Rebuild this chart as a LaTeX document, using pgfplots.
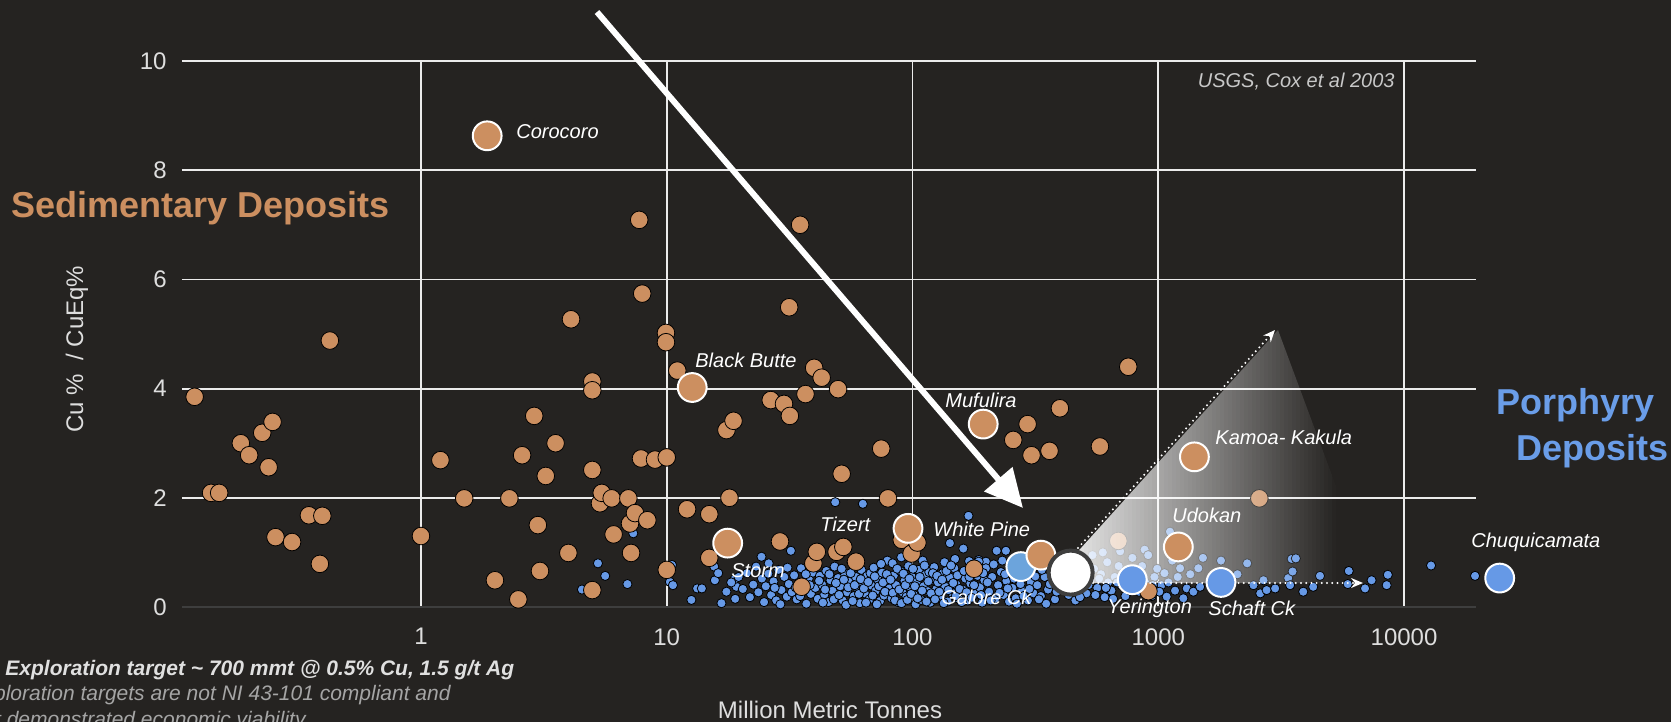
\documentclass[border=0pt]{standalone}
\usepackage{fontspec}
\setmainfont{Liberation Sans}
\usepackage{pgfplots}
\pgfplotsset{compat=1.18}
\usetikzlibrary{arrows.meta}
\definecolor{bg}{RGB}{37,35,33}
\definecolor{sed}{RGB}{204,143,96}
\definecolor{por}{RGB}{102,153,230}
\definecolor{porlt}{RGB}{108,164,220}
\definecolor{porttl}{RGB}{106,157,232}
\definecolor{tickc}{RGB}{222,222,222}
\definecolor{notec}{RGB}{165,165,165}
\definecolor{ringc}{RGB}{62,62,62}

\pgfplotstableread{
x y
0.120 3.85
0.140 2.09
0.151 2.09
0.185 3.00
0.200 2.78
0.226 3.19
0.249 3.39
0.240 2.56
0.256 1.28
0.299 1.19
0.350 1.68
0.397 1.67
0.388 0.79
0.426 4.88
1.00 1.30
1.20 2.69
1.50 1.99
2.00 0.49
2.29 1.99
2.49 0.14
2.58 2.78
2.89 3.50
2.99 1.50
3.05 0.66
3.22 2.40
3.53 3.00
3.98 0.99
4.08 5.27
4.98 4.13
4.98 3.97
4.98 2.51
4.98 0.31
5.35 1.90
5.44 2.09
5.97 1.99
6.08 1.33
6.98 1.99
7.09 1.53
7.16 0.99
7.43 1.72
7.73 7.09
7.86 2.72
7.95 5.74
8.34 1.59
8.96 2.70
9.93 5.02
9.93 4.85
10.0 2.74
10.0 0.68
11.04 4.33
12.1 1.79
14.9 1.70
14.9 0.90
17.5 3.24
18.0 2.00
18.7 3.41
26.5 3.79
28.9 1.20
30.0 3.72
31.5 5.49
31.7 3.50
34.9 7.00
35.4 0.37
36.7 3.90
39.5 0.80
39.8 4.38
40.8 1.01
42.7 4.20
49.1 1.01
49.8 3.99
51.5 2.44
52.3 1.10
58.9 0.83
74.6 2.90
79.5 1.99
90.4 1.23
99.2 0.98
104.7 1.18
178 0.70
257 3.06
294 3.35
305 2.78
361 2.86
398 3.64
579 2.94
755 4.40
912 0.29
688 1.21
2578 1.99
}\sedtable

\pgfplotstableread{
x y
4.52 0.32
5.25 0.80
5.62 0.57
6.92 0.42
7.31 1.35
10.3 0.46
10.6 0.40
10.5 0.77
12.6 0.13
13.3 0.34
13.9 0.34
15.7 0.49
16.7 0.07
15.6 0.74
19.2 0.37
18.9 0.51
24.3 0.92
32.0 1.03
48.5 1.92
62.8 1.89
169 1.67
142 1.17
161 1.07
186 0.86
199 0.83
16.2 0.62
17.5 0.28
18.3 0.45
19.0 0.15
19.6 0.55
20.4 0.33
21.2 0.62
21.8 0.18
22.5 0.41
23.1 0.74
23.6 0.27
24.4 0.52
24.9 0.09
25.3 0.38
25.9 0.61
26.6 0.22
27.2 0.47
27.9 0.12
28.5 0.68
29.3 0.31
30.1 0.55
30.8 0.19
31.4 0.42
32.3 0.27
33.0 0.58
33.8 0.14
34.5 0.44
35.2 0.71
36.1 0.33
37.0 0.06
37.8 0.52
38.6 0.24
39.4 0.63
40.3 0.35
41.2 0.15
42.0 0.57
42.9 0.41
43.8 0.23
44.6 0.66
45.5 0.09
46.4 0.49
47.3 0.30
48.2 0.74
49.0 0.18
49.8 0.53
50.8 0.38
52.0 0.12
53.1 0.61
54.2 0.27
55.4 0.46
56.5 0.82
57.7 0.20
58.8 0.55
60.0 0.33
61.1 0.07
62.0 0.68
62.8 0.42
64.0 0.25
65.4 0.57
66.8 0.14
67.5 0.62
68.2 0.39
69.5 0.72
70.9 0.30
72.3 0.50
73.8 0.11
75.2 0.63
76.6 0.21
78.0 0.44
79.0 0.85
80.5 0.34
82.3 0.16
83.0 0.80
84.0 0.58
85.8 0.40
87.5 0.09
89.3 0.66
90.0 0.91
91.0 0.27
92.8 0.48
94.5 0.19
96.3 0.75
98.0 0.36
99.5 0.55
101.5 0.22
103 0.05
104 0.46
106 0.68
108.5 0.13
110 0.85
111 0.38
113 0.59
115.5 0.29
117 0.64
118 0.08
120 0.50
122.5 0.73
125 0.33
127 0.45
130 0.18
131 0.30
133 0.62
135 0.82
136 0.37
139 0.10
142 0.54
145 0.26
148 0.71
149 0.88
151 0.41
154 0.15
157 0.60
160 0.32
164 0.52
168 0.12
170 0.84
172 0.43
176 0.69
180 0.24
184 0.57
186 0.83
188 0.36
192 0.08
196 0.49
199 0.71
205 0.28
211 0.55
214 0.78
217 0.15
220 1.03
223 0.40
229 0.64
232 0.85
235 0.22
240 1.03
241 0.48
247 0.10
255 0.35
263 0.16
268 0.80
271 0.52
279 0.30
287 0.60
290 0.86
295 0.12
303 0.45
306 0.66
311 0.25
322 0.40
333 0.20
340 0.78
345 0.55
350 0.06
356 0.32
368 0.62
374 0.85
380 0.14
392 0.47
405 0.36
415 0.80
418 0.55
432 0.22
446 0.42
460 0.12
470 0.88
474 0.60
488 0.30
495 0.50
510 0.25
530 0.50
540 0.95
548 0.70
565 0.35
585 0.60
595 1.00
605 0.18
620 0.82
625 0.45
645 0.30
665 0.55
690 0.75
700 1.02
710 0.40
735 0.20
750 0.35
760 0.65
785 0.90
810 0.60
835 0.28
860 0.75
880 1.05
885 0.45
910 0.95
940 0.20
965 0.55
990 0.70
1030 0.40
1060 0.62
1082 0.19
1116 1.38
1140 0.85
1170 0.30
1200 0.55
1227 0.71
1265 0.16
1306 0.34
1350 0.60
1390 0.28
1456 0.71
1480 0.37
1520 0.90
1650 0.45
1800 0.85
1960 0.37
2100 0.60
2300 0.80
2440 0.40
2600 0.25
2680 0.49
2760 0.31
2990 0.34
3380 0.53
3440 0.40
3490 0.88
3520 0.65
3630 0.89
3890 0.28
4270 0.37
4550 0.57
5900 0.42
5960 0.66
6940 0.34
7380 0.49
8500 0.40
8590 0.59
12880 0.76
19450 0.57
26.0 0.80
27.5 0.35
29.0 0.05
31.0 0.72
33.5 0.36
34.9 0.20
36.8 0.60
38.2 0.40
40.8 0.78
41.7 0.48
43.2 0.08
44.1 0.32
45.9 0.60
47.8 0.14
48.8 0.44
50.3 0.22
51.5 0.70
52.6 0.50
53.7 0.04
54.8 0.36
56.0 0.62
57.1 0.11
58.2 0.40
59.4 0.75
60.6 0.24
61.6 0.51
63.4 0.34
64.7 0.08
66.1 0.46
68.9 0.21
70.2 0.56
71.6 0.05
73.0 0.38
74.5 0.79
75.9 0.45
77.3 0.28
78.6 0.60
81.4 0.50
83.2 0.26
84.9 0.12
86.7 0.70
88.4 0.32
90.2 0.07
91.9 0.61
93.6 0.40
95.4 0.13
97.2 0.52
98.8 0.24
100.5 0.70
102.2 0.38
105 0.16
107 0.55
109.5 0.30
112 0.76
114 0.10
116 0.47
119 0.25
121 0.62
123.5 0.14
126 0.57
128.5 0.28
132 0.50
134 0.07
137.5 0.66
140 0.31
143.5 0.76
146.5 0.44
150 0.20
152.5 0.58
155.5 0.33
158.5 0.09
162 0.66
166 0.27
170.5 0.55
174 0.17
178 0.40
182 0.74
190 0.22
194 0.62
202 0.45
208 0.12
226 0.26
238 0.60
244 0.34
251 0.70
259 0.52
266 0.06
275 0.42
283 0.20
299 0.33
316 0.56
327 0.14
336 0.68
362 0.42
386 0.28
398 0.70
425 0.32
453 0.58
480 0.18
520 0.40
555 0.22
575 0.52
612 0.35
655 0.15
680 0.45
720 0.60
770 0.30
820 0.45
900 0.30
950 0.40
1010 0.28
1100 0.45
}\portable

\begin{document}
\begin{tikzpicture}
\path[use as bounding box] (0pt,0pt) rectangle (835.5pt,-361pt);
\clip (0pt,0pt) rectangle (835.5pt,-361pt);
\fill[bg] (0pt,0pt) rectangle (835.5pt,-361pt);

\begin{axis}[
  xmode=log, scale only axis, width=647pt, height=273pt,
  xmin=0.1066, xmax=19630, ymin=0, ymax=10,
  at={(91pt,-303.5pt)}, anchor=south west, clip=false,
  axis x line*=bottom, axis y line*=left,
  x axis line style={draw=ringc, line width=0.8pt},
  y axis line style={draw=none},
  xtick={1,10,100,1000,10000}, xticklabels={1,10,100,1000,10000},
  ytick={2,4,6,8,10}, yticklabels={2,4,6,8,10},
  extra y ticks={0}, extra y tick labels={0},
  extra y tick style={grid=none},
  grid=major, grid style={draw=white!92!black, line width=0.9pt},
  tick style={draw=none}, major tick length=0pt, minor tick length=0pt,
  /pgf/number format/assume math mode=true,
  tick label style={font=\fontsize{12}{14}\selectfont, text=tickc},
  xticklabel style={anchor=north, inner sep=0pt, yshift=-10.5pt},
  yticklabel style={anchor=east, inner sep=0pt, xshift=-7.5pt},
]
\addplot[only marks, mark=*, mark size=2.3pt, mark options={draw=none, fill=por}] table[x=x,y=y] {\portable};
\addplot[only marks, mark=*, mark size=4.4pt, mark options={draw=none, fill=sed}] table[x=x,y=y] {\sedtable};
\end{axis}

\begin{scope}[x=0.5pt, y=-0.5pt]
  \begin{scope}
    \clip (1072,583) -- (1072,558) -- (1278,330) -- (1372,583) -- cycle;
    \foreach \i in {0,...,65} {
      \pgfmathsetmacro\op{0.88*(1-\i/66)}
      \fill[white, fill opacity=\op] ({1072+4*\i},320) rectangle ({1076+4*\i},590);
    }
  \end{scope}
  \draw[white, line width=1.1pt, line cap=round, dash pattern=on 0pt off 2.6pt, -{Stealth[length=6pt,width=5pt,inset=2pt]}] (1078,548) -- (1275,330);
  \draw[white, line width=1.1pt, line cap=round, dash pattern=on 0pt off 2.6pt, -{Stealth[length=6pt,width=5pt,inset=2pt]}] (1093,583) -- (1363,583);
\end{scope}

\begin{axis}[
  xmode=log, scale only axis, width=647pt, height=273pt,
  xmin=0.1066, xmax=19630, ymin=0, ymax=10,
  at={(91pt,-303.5pt)}, anchor=south west, clip=false,
  hide axis]
\addplot[only marks, mark=*, mark size=7.2pt, mark options={draw=white, line width=1pt, fill=porlt}] coordinates {(276,0.74)};
\addplot[only marks, mark=*, mark size=7.2pt, mark options={draw=white, line width=1pt, fill=sed}] coordinates {
(1.86,8.63) (12.7,4.02) (194,3.35) (1403,2.75) (17.7,1.17) (95.9,1.44) (1207,1.10) (333,0.95)};
\addplot[only marks, mark=*, mark size=7.2pt, mark options={draw=white, line width=1pt, fill=por}] coordinates {
(784,0.50) (1800,0.45) (24500,0.53)};
\addplot[only marks, mark=*, mark size=11pt, mark options={draw=ringc, line width=2pt, fill=white}] coordinates {(440,0.63)};
\end{axis}

\begin{scope}[x=0.5pt, y=-0.5pt]
  \draw[white, line width=3pt, -{Triangle[length=19pt,width=18pt]}] (597,12) -- (1023,508);

  \begin{scope}[every node/.style={font=\fontsize{10}{12}\selectfont\itshape, text=white, anchor=west, inner sep=0pt}]
  \node at (516,132) {Corocoro};
  \node at (695,360) {Black Butte};
  \node at (945,400) {Mufulira};
  \node at (1215,437) {Kamoa- Kakula};
  \node at (820,524) {Tizert};
  \node at (933,529) {White Pine};
  \node at (731,571) {Storm};
  \node at (941,597) {Galore Ck};
  \node at (1172,515) {Udokan};
  \node at (1107,608) {Yerington};
  \node at (1208,608) {Schaft Ck};
  \node at (1471,542) {Chuquicamata};
  \end{scope}

  \node[anchor=base east, inner sep=0pt, text=tickc!90!black, font=\fontsize{10}{12}\selectfont\itshape] at (1395,88) {USGS, Cox et al 2003};

  \node[rotate=90, inner sep=0pt, text=tickc, font=\fontsize{12}{14}\selectfont] at (77,349) {Cu \%\ \ / CuEq\%};
  \node[inner sep=0pt, text=tickc, font=\fontsize{12}{14}\selectfont] at (830,710) {Million Metric Tonnes};

  \node[anchor=base west, inner sep=0pt, text=sed, font=\fontsize{18}{20}\selectfont\bfseries] at (11,217) {Sedimentary Deposits};
  \node[anchor=base west, inner sep=0pt, text=porttl, font=\fontsize{18}{20}\selectfont\bfseries] at (1496,414) {Porphyry};
  \node[anchor=base west, inner sep=0pt, text=porttl, font=\fontsize{18}{20}\selectfont\bfseries] at (1516,460) {Deposits};

  \node[anchor=base west, inner sep=0pt, text=white!88!black, font=\fontsize{10.5}{12}\selectfont\bfseries\itshape] at (5,675) {Exploration target \textasciitilde{} 700 mmt @ 0.5\% Cu, 1.5 g/t Ag};
  \node[anchor=base east, inner sep=0pt, text=notec, font=\fontsize{10.5}{12}\selectfont\itshape] at (451,700) {*Exploration targets are not NI 43-101 compliant and};
  \node[anchor=base east, inner sep=0pt, text=notec, font=\fontsize{10.5}{12}\selectfont\itshape] at (306,726) {and have not demonstrated economic viability};
\end{scope}
\end{tikzpicture}
\end{document}
